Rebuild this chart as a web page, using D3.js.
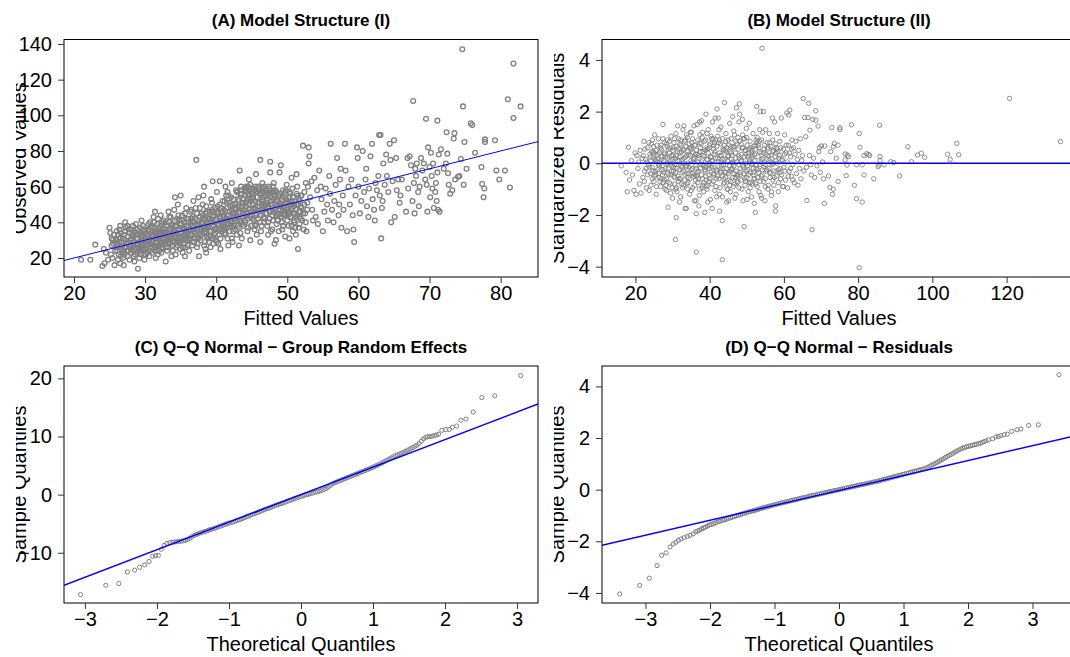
<!DOCTYPE html>
<html><head><meta charset="utf-8">
<script src="https://cdn.jsdelivr.net/npm/d3@7"></script>
<style>
html,body{margin:0;padding:0;background:#fff;}
svg{display:block;font-family:"Liberation Sans",Arial,Helvetica,sans-serif;}
</style></head><body>
<svg id="chart" width="1070" height="657"></svg>
<script>
// ---- Panel A: observed vs fitted (conditional) ----
const observedVsFitted = [
[21.0,19],[22.3,19],[23.0,27.5],[24.0,15.5],[24.2,25],[24.5,23],[24.3,17],[24.8,19],[25.0,37],[25.1,34],[25.3,31],[25.5,28],[25.2,22],[25.7,16],[25.9,26],[25.4,20],
[26.1,24],[26.3,29],[26.2,33],[26.5,17],[26.6,21],[26.8,27],[26.4,36],[26.9,31],[26.7,25],[26.0,30],[26.2,19],[26.5,38],[26.8,23],[27.0,16],[27.2,35],[27.4,28],[27.1,22],[27.6,32],[27.3,26],[27.8,19],[27.5,38],[27.7,24],[27.9,30],[27.2,40],
[28.0,27],[28.2,33],[28.4,21],[28.1,36],[28.6,25],[28.3,29],[28.8,31],[28.5,18],[28.9,23],[28.7,39],[28.2,26],[28.4,34],[29.0,28],[29.2,20],[29.5,32],[29.1,24],[29.3,37],[29.6,27],[29.8,22],[29.4,30],[29.7,35],[29.9,19],[29.0,14],[29.5,41],[29.2,26],[29.8,29],[29.6,33],[30.0,25],
[30.1,30],[30.3,23],[30.5,36],[30.2,28],[30.7,40],[30.4,32],[30.9,26],[30.6,21],[30.8,34],[31.0,29],[31.2,43],[31.4,24],[31.1,37],[31.6,31],[31.3,27],[31.8,35],[31.5,20],[31.7,39],[31.9,25],[31.0,33],[31.4,46],[31.6,28],[31.8,22],[32.0,30],[32.2,38],[32.4,26],[32.1,34],[32.6,41],[32.3,23],[32.8,31],[32.5,29],[32.7,36],[32.9,18],[32.2,44],[32.6,33],[32.0,27],
[33.0,35],[33.2,29],[33.4,40],[33.1,24],[33.6,32],[33.3,46],[33.8,27],[33.5,37],[33.7,21],[33.9,34],[33.2,31],[33.6,43],[34.0,30],[34.2,38],[34.4,26],[34.1,47],[34.6,33],[34.3,22],[34.8,41],[34.5,29],[34.7,36],[34.9,25],[34.2,54],[34.6,50],[34.0,35],[35.0,32],[35.2,44],[35.4,28],[35.1,39],[35.6,35],[35.3,23],[35.8,48],[35.5,31],[35.7,26],[35.9,42],[35.2,37],[35.6,21],[35.0,55],
[36.0,34],[36.2,30],[36.4,46],[36.1,40],[36.6,27],[36.3,36],[36.8,52],[36.5,33],[36.7,43],[36.9,29],[36.2,24],[36.6,38],[37.0,35],[37.2,75],[37.4,31],[37.1,48],[37.6,41],[37.3,26],[37.8,37],[37.5,54],[37.7,33],[37.9,45],[37.2,39],[37.6,21],[38.0,36],[38.2,42],[38.4,29],[38.1,50],[38.6,34],[38.3,60],[38.8,39],[38.5,25],[38.7,46],[38.9,31],[38.2,55],[38.6,23],
[39.0,38],[39.2,32],[39.4,47],[39.1,42],[39.6,28],[39.3,53],[39.8,36],[39.5,63],[39.7,44],[39.9,30],[39.2,26],[39.6,40],[40.0,37],[40.2,49],[40.4,33],[40.1,57],[40.6,43],[40.3,28],[40.8,39],[40.5,63],[40.7,35],[40.9,52],[40.2,46],[40.6,25],[41.0,41],[41.2,36],[41.4,55],[41.1,47],[41.6,31],[41.3,60],[41.8,39],[41.5,44],[41.7,27],[41.9,51],[41.2,34],[41.6,57],
[42.0,40],[42.2,47],[42.4,35],[42.1,54],[42.6,42],[42.3,29],[42.8,58],[42.5,38],[42.7,50],[42.9,33],[42.2,62],[42.6,45],[43.0,43],[43.2,37],[43.4,56],[43.1,49],[43.6,31],[43.3,69],[43.8,45],[43.5,60],[43.7,39],[43.9,53],[43.2,27],[43.6,48],[44.0,41],[44.2,58],[44.4,35],[44.1,51],[44.6,64],[44.3,44],[44.8,30],[44.5,56],[44.7,47],[44.9,38],[44.2,60],[44.6,53],
[45.0,44],[45.2,59],[45.4,36],[45.1,50],[45.6,67],[45.3,41],[45.8,57],[45.5,48],[45.7,33],[45.9,60],[45.2,54],[45.6,39],[46.0,46],[46.2,75],[46.4,52],[46.1,40],[46.6,59],[46.3,35],[46.8,49],[46.5,62],[46.7,43],[46.9,55],[46.2,29],[46.6,47],[47.0,51],[47.2,38],[47.4,60],[47.1,45],[47.6,68],[47.3,33],[47.8,54],[47.5,42],[47.7,58],[47.9,36],[47.2,48],[47.6,74],
[48.0,46],[48.2,55],[48.4,30],[48.1,62],[48.6,41],[48.3,50],[48.8,35],[48.5,57],[48.7,44],[48.9,68],[48.2,28],[48.6,52],[49.0,47],[49.2,40],[49.4,58],[49.1,72],[49.6,45],[49.3,36],[49.8,53],[49.5,49],[49.7,32],[49.9,61],[49.2,43],[50.0,48],[50.2,38],[50.4,56],[50.1,44],[50.6,65],[50.3,51],[50.8,35],[50.5,47],[50.7,59],[50.9,41],[50.3,31],
[51.0,50],[51.2,43],[51.4,60],[51.1,37],[51.6,53],[51.3,67],[51.8,46],[51.5,25],[51.7,39],[51.9,55],[51.2,33],[52.0,48],[52.2,83],[52.4,57],[52.1,41],[52.6,62],[52.3,36],[52.8,51],[52.5,45],[52.7,35],[52.9,60],[53.0,82],[53.1,77],[53.0,73],[53.2,54],[53.4,63],[53.6,41],[53.8,65],[53.5,47],
[54.0,43],[54.3,39],[54.5,69],[54.7,60],[54.2,58],[54.8,53],[55.0,35],[55.2,46],[55.4,59],[55.6,50],[55.9,66],[55.7,41],[56.1,84],[56.0,56],[56.3,47],[56.5,40],[56.8,61],[56.6,52],[57.0,76],[57.2,44],[57.4,64],[57.6,37],[57.3,50],[57.8,55],[57.5,70],[57.9,47],[58.2,69],[58.4,35],[58.1,84],[58.6,60],[58.8,50],[59.0,64],[59.2,44],[59.4,29],[59.3,36],[59.6,55],[59.8,82],[59.9,76],
[60.0,60],[60.2,45],[60.4,52],[60.6,80],[60.8,57],[61.0,64],[61.2,49],[61.4,43],[61.5,59],[61.1,70],[61.7,77],[61.9,84],[62.0,53],[62.2,47],[62.4,62],[62.6,58],[62.3,41],[62.8,66],[62.9,89],[63.1,89],[63.2,31],[63.0,55],[63.3,48],[63.5,73],[63.7,61],[63.4,52],[63.9,78],[64.0,66],[64.2,57],[64.4,84],[64.6,40],[64.8,63],[64.5,75],[65.0,86],[65.1,43],[65.3,76],[65.4,58],[65.6,64],[65.8,51],[65.9,55],
[66.1,64],[66.7,46],[66.9,76],[67.2,77],[67.0,59],[67.4,72],[67.6,52],[67.8,62],[67.7,108],[67.9,45],[68.0,70],[68.2,73],[68.4,57],[68.1,66],[68.6,60],[68.8,76],[68.5,49],[69.0,69],[69.2,73],[69.4,64],[69.6,61],[69.5,98],[69.8,82],[69.7,46],[70.0,71],[70.2,79],[70.1,54],[70.4,59],[70.3,66],[70.6,48],[70.8,57],[70.5,73],[70.9,62],[71.1,97],[71.0,52],[71.2,47],[71.3,78],[71.4,46],[71.1,68],[71.6,81],
[72.0,70],[72.3,73],[72.4,90.5],[72.5,78.5],[72.6,67.5],[72.7,61],[72.9,56],[73.2,58],[73.4,87],[73.5,90],[73.6,64],[74.0,65.5],[74.2,66],[74.4,75.5],[74.6,137],[74.7,105],[74.8,61],[74.9,85],[75.2,70],[75.8,95.5],[76.0,94.5],[76.4,79],[77.3,71],[77.4,61.5],[77.6,54],[77.7,59],[77.8,86.5],[77.8,85],[79.2,86],[79.4,69],[79.8,64],[80.6,69],[81.0,109],[81.3,59.5],[81.8,129],[81.8,98.5],[82.8,105],
[25.3,27],[25.6,33],[25.8,24],[26.0,35],[26.3,22],[26.4,31],[26.7,29],[26.9,20],[27.0,33],[27.1,26],[27.3,37],[27.5,21],[27.6,29],[27.8,34],[27.9,26],[28.0,23],[28.1,31],[28.3,38],[28.4,27],[28.6,22],[28.7,33],[28.9,28],[28.9,36],
[29.0,31],[29.1,25],[29.3,34],[29.4,22],[29.5,28],[29.7,38],[29.8,25],[29.9,32],[30.0,36],[30.1,22],[30.2,33],[30.4,27],[30.5,39],[30.6,30],[30.7,24],[30.8,37],[30.9,29],[31.0,23],[31.1,32],[31.2,27],[31.3,40],[31.4,35],[31.5,26],[31.6,34],[31.7,29],[31.8,42],[31.9,31],[32.0,24],[32.1,36],[32.2,29],[32.3,33],[32.4,40],[32.5,25],[32.6,37],[32.7,28],[32.8,34],[32.9,26],
[33.0,30],[33.1,38],[33.2,26],[33.3,34],[33.4,43],[33.5,28],[33.6,36],[33.7,31],[33.8,39],[33.9,24],[34.0,33],[34.1,29],[34.2,41],[34.3,35],[34.4,31],[34.5,38],[34.6,27],[34.7,44],[34.8,32],[34.9,36],[35.0,29],[35.1,34],[35.2,41],[35.3,26],[35.4,37],[35.5,33],[35.6,45],[35.7,30],[35.8,38],[35.9,34],[36.0,27],[36.1,42],[36.2,36],[36.3,31],[36.4,39],[36.5,47],[36.6,33],[36.7,29],[36.8,40],[36.9,35],
[37.0,42],[37.1,31],[37.2,36],[37.3,45],[37.4,28],[37.5,39],[37.6,34],[37.7,48],[37.8,30],[37.9,40],[38.0,33],[38.1,44],[38.2,37],[38.3,27],[38.4,41],[38.5,35],[38.6,49],[38.7,32],[38.8,43],[38.9,37],[39.0,29],[39.1,46],[39.2,40],[39.3,35],[39.4,51],[39.5,31],[39.6,43],[39.7,38],[39.8,48],[39.9,34],[40.0,42],[40.1,29],[40.2,39],[40.3,45],[40.4,36],[40.5,50],[40.6,31],[40.7,41],[40.8,46],[40.9,36],
[41.0,44],[41.1,38],[41.2,52],[41.3,33],[41.4,42],[41.5,48],[41.6,37],[41.7,55],[41.8,44],[41.9,35],[42.0,49],[42.1,41],[42.2,31],[42.3,45],[42.4,53],[42.5,39],[42.6,48],[42.7,36],[42.8,44],[42.9,57],[43.0,38],[43.1,46],[43.2,52],[43.3,41],[43.4,34],[43.5,49],[43.6,56],[43.7,43],[43.8,38],[43.9,47],[44.0,55],[44.1,40],[44.2,49],[44.3,59],[44.4,45],[44.5,37],[44.6,50],[44.7,55],[44.8,43],[44.9,52],
[45.0,56],[45.1,42],[45.2,47],[45.3,58],[45.4,52],[45.5,38],[45.6,45],[45.7,54],[45.8,49],[45.9,42],[46.0,58],[46.1,51],[46.2,44],[46.3,56],[46.4,38],[46.5,48],[46.6,54],[46.7,60],[46.8,42],[46.9,50],[47.0,45],[47.1,56],[47.2,52],[47.3,40],[47.4,49],[47.5,59],[47.6,46],[47.7,35],[47.8,50],[47.9,57],[48.0,41],[48.1,53],[48.2,48],[48.3,58],[48.4,44],[48.5,39],[48.6,49],[48.7,55],[48.8,45],[48.9,51],
[49.0,56],[49.1,43],[49.2,50],[49.3,46],[49.4,38],[49.5,54],[49.6,49],[49.7,44],[49.8,58],[49.9,47],[50.0,41],[50.1,52],[50.2,46],[50.3,57],[50.4,43],[50.5,50],[50.6,38],[50.7,48],[50.8,54],[50.9,45],[51.0,40],[51.1,52],[51.2,47],[51.3,56],[51.4,44],[51.5,50],[51.6,37],[51.7,46],[51.8,52],[51.9,42],[52.0,55],[52.2,45],[52.4,50],[52.6,40],[52.8,47],
[25.5,30],[25.9,28],[26.2,26],[26.6,34],[26.9,24],[27.2,30],[27.4,24],[27.7,36],[28.0,30],[28.3,24],[28.5,35],[28.8,27],[29.0,33],[29.3,29],[29.5,25],[29.8,36],[30.0,31],[30.2,26],[30.5,33],[30.7,28],[30.9,38],[31.1,30],[31.3,34],[31.5,29],[31.7,24],[31.9,37],[32.1,32],[32.3,28],[32.5,35],[32.7,31],[32.9,40],[33.1,34],[33.3,28],[33.5,32],[33.7,38],[33.9,30],[34.1,36],[34.3,32],[34.5,42],[34.7,30],[34.9,39],[35.1,31],[35.3,36],[35.5,40],[35.7,34],[35.9,30],[36.1,38],[36.3,33],[36.5,42],[36.7,36],[36.9,40],[37.1,34],[37.3,38],[37.5,31],[37.7,43],[37.9,36],[38.1,40],[38.3,34],[38.5,45],[38.7,38],[38.9,42],[39.1,35],[39.3,40],[39.5,46],[39.7,33],[39.9,41],[40.1,45],[40.3,38],[40.5,42],[40.7,48],[40.9,40],[41.1,43],[41.3,37],[41.5,51],[41.7,41],[41.9,46],[42.1,38],[42.3,50],[42.5,43],[42.7,47],[42.9,41],[43.1,53],[43.3,45],[43.5,40],[43.7,51],[43.9,44],[44.1,48],[44.3,52],[44.5,42],[44.7,58],[44.9,46],[45.1,53],[45.3,48],[45.5,57],[45.7,44],[45.9,51],[46.1,56],[46.3,47],[46.5,53],[46.7,40],[46.9,58],[47.1,50],[47.3,55],[47.5,46],[47.7,52],[47.9,44],[48.1,57],[48.3,47],[48.5,52],[48.7,41],[48.9,55],[49.1,49],[49.3,53],[49.5,44],[49.7,57],[49.9,51],[50.1,47],[50.3,54],[50.5,43],[50.7,52],[50.9,49],[51.1,45],[51.3,50],[51.5,55],[51.7,43],[51.9,49],
[43.5,58],[44.0,59],[44.5,60],[45.0,59],[45.5,60],[46.0,59],[46.5,57],[47.0,59],[47.5,56],[48.0,60],[43.0,57],[44.8,61]
];
const ticksAx = [20,30,40,50,60,70,80];
const ticksAy = [20,40,60,80,100,120,140];
const refLineA = [0, 1]; // intercept, slope (observed = fitted)

// ---- Panel B: standardized residuals vs fitted (marginal) ----
const residVsFitted = [
[16.2,-0.1],[17.5,-0.35],[17.8,-1.1],[18.1,0.62],[18.4,-0.65],[18.9,0.1],[19.2,-0.45],[19.6,-1.05],[19.9,0.4],[20.2,-1.2],[20.4,0.3],[20.7,-0.2],[20.9,0.05],[21.1,-0.8],[21.3,0.5],[21.5,-1.15],[21.8,0.2],[22.0,-0.55],[22.3,0.85],[22.5,-0.3],[22.8,0.15],[23.0,-0.95],[23.2,0.6],[23.5,-0.05],[23.7,-1.05],[23.9,0.35],
[24.1,-0.4],[24.3,0.75],[24.5,-0.15],[24.8,0.45],[25.0,-0.7],[25.2,1.1],[25.4,0.1],[25.6,-1.2],[25.8,0.3],[26.0,-0.25],[26.2,0.95],[26.4,-0.55],[26.6,0.05],[26.8,-0.9],[27.0,0.55],[27.2,-0.1],[27.4,1.5],[27.6,-0.35],[27.8,0.8],[28.0,-1.0],[28.2,0.25],[28.4,-0.6],[28.6,0.65],[28.8,-1.7],[29.0,0.0],[29.2,0.4],[29.4,-0.8],[29.6,1.05],[29.8,-0.3],[30.0,0.15],[24.6,0.9],[25.5,-0.45],[26.5,0.4],[27.5,-0.75],[28.5,0.0],[29.5,-1.15],[24.9,0.2],[26.9,0.7],[28.9,-0.2],[30.0,-1.35],
[30.2,0.6],[30.4,-0.5],[30.6,0.95],[30.8,-1.0],[31.0,0.3],[31.2,-0.2],[31.4,1.45],[31.6,-0.7],[31.8,0.1],[32.0,0.75],[32.2,-1.3],[32.4,0.45],[32.6,-0.35],[32.8,1.3],[33.0,-0.85],[33.2,0.2],[33.4,-1.75],[33.6,0.65],[33.8,-0.1],[34.0,1.0],[34.2,-0.55],[34.4,0.35],[34.6,-1.2],[34.8,1.2],[35.0,-0.25],[35.2,0.8],[35.4,-0.95],[35.6,0.05],[35.8,1.45],[36.0,-0.45],[30.5,-0.05],[31.5,0.55],[32.5,-0.8],[33.5,0.9],[34.5,-0.15],[35.5,0.4],[30.9,1.15],[31.9,-1.5],[32.9,0.0],[33.9,-0.4],[34.9,0.6],[35.9,-1.45],[31.1,-0.95],[33.1,1.45],[35.1,1.2],[34.1,-1.0],[32.1,0.25],[30.3,-0.3],[33.7,-1.75],[36.4,-1.95],
[36.2,0.7],[36.4,-0.2],[36.6,1.5],[36.8,-0.75],[37.0,0.3],[37.2,-1.25],[37.4,1.1],[37.6,-0.05],[37.8,1.65],[38.0,-0.6],[38.2,0.45],[38.4,-1.1],[38.6,0.85],[38.8,-0.3],[39.0,1.9],[39.2,-0.9],[39.4,0.15],[39.6,1.3],[39.8,-0.45],[40.0,0.6],[40.2,-1.4],[40.4,1.05],[40.6,-0.15],[40.8,1.6],[41.0,-0.7],[41.2,0.35],[41.4,-1.05],[41.6,0.9],[41.8,-0.25],[42.0,2.1],[36.5,-0.5],[37.5,0.6],[38.5,-0.1],[39.5,-1.5],[40.5,0.25],[41.5,1.75],[36.9,0.05],[37.9,-0.95],[38.9,0.5],[39.9,-0.2],[40.9,0.95],[41.9,-1.3],[37.1,-1.65],[38.1,1.2],[39.1,-0.65],[40.1,0.0],[41.1,0.7],[38.7,-1.9],[37.3,1.6],[40.7,-1.75],[36.3,-1.45],[39.3,-1.0],
[42.2,-0.5],[42.4,0.8],[42.6,-1.2],[42.8,0.3],[43.0,1.4],[43.2,-0.1],[43.4,-2.22],[43.6,0.55],[43.8,-0.8],[44.0,2.35],[44.2,-0.35],[44.4,1.15],[44.6,-1.5],[44.8,0.1],[45.0,0.9],[45.2,-0.65],[45.4,1.55],[45.6,-1.1],[45.8,0.4],[46.0,-0.2],[46.2,1.8],[46.4,-0.9],[46.6,0.65],[46.8,-1.35],[47.0,0.2],[47.2,2.15],[47.4,-0.45],[47.6,1.0],[47.8,-0.05],[48.0,2.3],[42.5,1.3],[43.5,-1.3],[44.5,0.45],[45.5,-0.3],[46.5,1.25],[47.5,-0.75],[42.9,-0.3],[43.9,0.7],[44.9,-1.0],[45.9,0.15],[46.9,-0.55],[47.9,1.6],[42.3,1.75],[44.3,-0.55],[45.1,-1.45],[46.1,0.0],[47.1,-1.2],[43.1,0.05],[48.1,1.9],[42.7,-1.85],
[48.3,-0.35],[48.5,0.75],[48.7,-1.0],[48.9,1.1],[49.1,-0.15],[49.3,-2.45],[49.5,0.5],[49.7,-0.7],[49.9,1.35],[50.1,-1.4],[50.3,0.25],[50.5,-0.45],[50.7,1.55],[50.9,-0.95],[51.1,0.6],[51.3,-1.3],[51.5,0.0],[51.7,1.15],[51.9,-0.6],[52.1,0.35],[52.3,-1.9],[52.5,0.9],[52.7,2.2],[52.9,-0.25],[53.1,0.7],[53.3,-1.1],[53.5,1.3],[53.7,2.0],[53.9,-0.5],[54.1,0.15],[48.4,0.1],[49.4,0.95],[50.4,-1.1],[51.4,0.4],[52.4,-0.8],[53.4,0.45],[48.8,1.7],[49.8,-0.3],[50.8,0.05],[51.8,-0.2],[52.8,1.0],[53.8,-1.25],[50.0,1.0],[52.0,-1.55],[54.0,-1.35],[49.0,-1.45],
[54.3,1.2],[54.5,-0.7],[54.7,0.55],[54.9,-1.45],[55.1,1.3],[55.3,-0.3],[55.5,0.8],[55.7,-1.0],[55.9,0.3],[56.1,1.15],[56.3,-0.55],[56.5,0.65],[56.7,-1.1],[56.9,1.75],[57.1,0.0],[57.3,-0.85],[57.5,1.6],[57.7,-1.85],[57.9,0.4],[58.1,-0.3],[58.3,1.15],[58.5,-1.1],[58.7,0.2],[58.9,0.85],[59.1,-0.6],[59.3,1.75],[59.5,0.1],[59.7,-0.9],[59.9,0.55],[60.0,-0.15],[55.0,-0.05],[56.0,-0.2],[57.0,0.9],[58.0,0.6],[59.0,-0.35],[57.8,-1.65],[56.6,-1.25],[54.5,2.0],
[60.2,1.1],[60.4,-0.65],[60.6,0.4],[60.8,1.95],[61.0,-0.95],[61.2,0.7],[61.4,-0.3],[61.6,2.06],[61.3,1.87],[61.8,0.25],[62.0,-0.5],[62.2,0.9],[62.4,-0.05],[62.6,0.6],[62.8,-0.75],[63.0,0.35],[63.2,0.85],[63.4,-0.4],[63.6,0.15],[63.8,-0.85],[64.0,0.5],[64.2,-0.2],[64.4,0.95],[64.6,-0.6],[64.8,0.1],[65.0,0.3],[65.2,2.5],[65.4,-0.3],[65.6,1.77],[65.9,1.03],[66.1,-0.15],[66.2,-1.44],[66.5,1.77],[66.7,2.32],[66.9,0.3],[67.0,1.28],[67.2,-0.05],[67.4,-0.45],[67.6,-2.57],[67.8,1.7],[68.0,0.2],[68.3,-0.55],[68.6,1.67],[68.6,2.03],[68.9,-0.1],[69.2,1.44],[69.4,0.45],[69.6,0.6],[69.8,-0.35],[70.1,0.67],
[70.4,0.05],[70.7,-0.6],[71.0,0.67],[70.9,-1.55],[72.0,-0.49],[72.4,-0.93],[72.6,0.45],[72.9,1.38],[73.1,-1.2],[73.3,-1.0],[73.3,0.64],[73.6,0.77],[74.1,0.2],[74.6,0.7],[74.6,-0.7],[75.1,1.38],[75.1,1.3],[76.5,0.36],[76.5,0.13],[76.8,-0.48],[77.0,-0.07],[77.1,0.32],[77.4,0.26],[78.2,1.49],[79.0,-0.85],[79.6,-1.37],[79.6,-0.06],[80.3,1.15],[80.3,-4.04],[80.5,0.62],[81.1,-1.5],[81.1,-0.06],[81.6,0.3],[81.6,-0.45],[82.3,0.37],[82.8,0.34],[83.1,0.3],[84.2,-0.6],[85.4,-0.13],[85.6,-0.07],[85.8,1.47],[85.9,0.26],[85.9,0.1],[87.0,-0.06],[88.8,0.06],[89.6,0.03],[91.2,-0.49],[93.4,0.64],[94.4,0.06],[96.0,0.32],[97.0,0.39],[97.9,0.23],[104.1,0.35],[104.8,0.15],[106.6,0.77],[107.1,0.33],[120.8,2.51],[134.5,0.84],
[54.1,4.45],[43.4,-3.73],[36.4,-3.44],[30.8,-2.95],[31.0,-2.10],
[22.1,0.3],[22.4,-0.7],[22.6,0.55],[22.9,-0.2],[23.1,0.05],[23.3,-0.45],[23.6,0.8],[23.8,-0.15],[24.0,0.25],[24.2,-0.85],[24.4,0.45],[24.7,-0.3],[24.9,0.65],[25.1,-0.5],[25.3,0.15],[25.5,0.5],[25.7,-0.9],[25.9,0.05],[26.1,0.35],[26.3,-0.4],[26.5,-0.1],[26.7,0.6],[26.9,-0.6],
[27.1,0.25],[27.3,-0.45],[27.4,0.95],[27.6,0.1],[27.8,-0.65],[27.9,0.4],[28.1,-0.2],[28.3,0.75],[28.4,-1.05],[28.6,0.2],[28.7,-0.4],[28.9,0.55],[29.1,-0.75],[29.2,0.85],[29.4,0.1],[29.6,-0.45],[29.7,0.3],[29.9,-0.95],[30.1,0.5],[30.2,-0.15],[30.4,0.8],[30.6,-0.55],[30.7,0.2],[30.9,-0.35],[31.0,0.65],[31.2,-1.1],[31.3,0.1],[31.5,-0.5],[31.6,0.95],[31.8,-0.25],
[32.0,0.4],[32.1,-0.6],[32.3,0.7],[32.4,-0.1],[32.6,0.15],[32.7,-0.95],[32.9,0.55],[33.0,-0.3],[33.2,0.85],[33.3,-0.65],[33.5,0.25],[33.6,-0.15],[33.8,1.1],[33.9,-0.8],[34.1,0.45],[34.2,0.0],[34.4,-0.4],[34.5,0.75],[34.7,-0.6],[34.8,0.3],[35.0,-1.05],[35.1,0.55],[35.3,-0.2],[35.4,0.95],[35.6,-0.5],[35.7,0.15],[35.9,0.7],[36.0,-0.85],[36.2,0.35],[36.3,-0.1],
[36.5,0.5],[36.6,-0.35],[36.8,0.9],[36.9,-0.6],[37.1,0.2],[37.2,-1.0],[37.4,0.45],[37.5,-0.2],[37.7,0.75],[37.8,-0.45],[38.0,1.0],[38.1,-0.05],[38.3,0.3],[38.4,-0.75],[38.6,0.55],[38.7,-0.25],[38.9,0.9],[39.0,-0.5],[39.2,0.15],[39.3,1.15],[39.5,-0.85],[39.6,0.4],[39.8,-0.1],[39.9,0.7],[40.1,-0.6],[40.2,0.25],[40.4,-0.35],[40.5,0.95],[40.7,-0.8],[40.8,0.1],
[41.0,0.55],[41.1,-0.45],[41.3,0.8],[41.4,-0.15],[41.6,0.2],[41.7,-0.9],[41.9,0.65],[42.0,-0.3],[42.2,1.05],[42.3,0.05],[42.5,-0.6],[42.6,0.4],[42.8,-0.95],[42.9,0.75],[43.1,-0.2],[43.2,0.3],[43.4,-0.5],[43.5,0.95],[43.7,-0.05],[43.8,0.5],[44.0,-0.75],[44.1,0.15],[44.3,0.85],[44.4,-0.35],[44.6,0.6],[44.7,-1.0],[44.9,0.25],[45.0,-0.4],[45.2,0.7],[45.3,-0.1],
[45.5,0.45],[45.6,-0.7],[45.8,0.95],[45.9,-0.25],[46.1,0.3],[46.2,-0.55],[46.4,0.6],[46.5,-0.1],[46.7,1.1],[46.8,-0.8],[47.0,0.4],[47.1,-0.3],[47.3,0.75],[47.4,0.05],[47.6,-0.5],[47.7,0.55],[47.9,-0.95],[48.0,0.2],[48.2,0.85],[48.3,-0.2],[48.5,0.35],[48.6,-0.65],[48.8,0.6],[48.9,-0.1],[49.1,0.95],[49.2,-0.4],[49.4,0.25],[49.5,-0.85],[49.7,0.5],[49.8,0.0],
[50.0,-0.55],[50.1,0.7],[50.3,-0.25],[50.4,0.4],[50.6,-0.75],[50.7,0.15],[50.9,0.85],[51.0,-0.35],[51.2,0.5],[51.3,-0.05],[51.5,-0.8],[51.6,0.3],[51.8,0.65],[51.9,-0.45],[52.1,0.1],[52.2,-0.6],[52.4,0.55],[52.5,-0.2],[52.7,0.8],[52.8,-0.9],[53.0,0.25],[53.2,-0.35],[53.3,0.6],[53.5,-0.05],[53.6,-0.7],[53.8,0.4],[54.0,0.9],[54.2,-0.45],[54.4,0.2],[54.6,-0.15],
[54.8,0.7],[55.0,-0.6],[55.2,0.35],[55.4,-0.25],[55.6,0.55],[55.8,-0.85],[56.0,0.1],[56.2,0.8],[56.4,-0.4],[56.6,0.3],[56.8,-0.05],[57.0,-0.65],[57.2,0.5],[57.4,-0.3],[57.6,0.25],[57.8,0.75],[58.0,-0.5],[58.2,0.0],[58.4,0.45],[58.6,-0.75],[58.8,0.3],[59.0,-0.2],[59.2,0.6],[59.4,-0.45],[59.6,0.15],[59.8,-0.9],[60.1,0.35],[60.3,-0.3],[60.6,0.7],[60.9,0.05],[61.2,-0.5],[61.5,0.4],[61.8,-0.2],[62.1,0.55],[62.4,-0.65],
[24.2,0.1],[24.6,-0.6],[25.0,0.4],[25.4,-0.3],[25.8,0.7],[26.2,-0.05],[26.6,-0.7],[27.0,0.15],[27.4,-0.25],[27.8,0.35],[28.2,-0.85],[28.6,0.9],[29.0,-0.45],[29.4,0.6],[29.8,-0.1],[30.2,0.3],[30.6,-0.8],[31.0,-0.05],[31.4,0.45],[31.8,-0.6],[32.2,0.9],[32.6,-0.15],[33.0,0.5],[33.4,-0.45],[33.8,0.3],[34.2,-0.75],[34.6,0.6],[35.0,0.1],[35.4,-0.4],[35.8,0.2],[36.2,-0.65],[36.6,0.35],[37.0,-0.3],[37.4,0.8],[37.8,0.05],[38.2,-0.85],[38.6,0.25],[39.0,-0.15],[39.4,0.55],[39.8,-0.7],[40.2,0.75],[40.6,0.1],[41.0,-0.4],[41.4,0.45],[41.8,-0.6],[42.2,0.2],[42.6,0.9],[43.0,-0.35],[43.4,0.15],[43.8,-0.6],[44.2,0.5],[44.6,-0.2],[45.0,0.3],[45.4,-0.85],[45.8,0.65],[46.2,0.05],[46.6,-0.4],[47.0,0.85],[47.4,-0.7],[47.8,0.3],[48.2,-0.45],[48.6,0.1],[49.0,0.6],[49.4,-0.6],[49.8,0.35],[50.2,-0.1],[50.6,0.55],[51.0,-0.75],[51.4,0.2],[51.8,-0.35],[52.2,0.7],[52.6,-0.05],[53.0,-0.55],[53.4,0.85],[53.8,0.05],[54.2,-0.25],[54.6,0.4],[55.0,-0.9],[55.4,0.15],[55.8,0.6],[56.2,-0.35],[56.6,0.05],[57.0,0.45],[57.4,-0.55],[57.8,0.1],[58.2,0.55],[58.6,-0.25]
];
const ticksBx = [20,40,60,80,100,120];
const ticksBy = [-4,-2,0,2,4];
const refLineB = [0, 0];

// ---- Panel C: normal Q-Q of group random effects [theoretical, sample] ----
const qqGroupEffects = [
[-3.06,-17.2],[-2.71,-15.6],[-2.53,-15.3],[-2.41,-13.3],[-2.31,-13.0],[-2.24,-12.5],[-2.17,-12.1],[-2.11,-11.5],[-2.06,-10.6],[-2.02,-10.5],[-1.98,-10.45],[-1.94,-9.4],[-1.90,-8.73],[-1.86,-8.4],[-1.82,-8.26],
[-1.78,-8.2],[-1.75,-8.15],[-1.72,-8.1],[-1.69,-8.05],[-1.66,-8.0],[-1.63,-7.95],[-1.60,-7.85],[-1.57,-7.7],[-1.54,-7.5],[-1.51,-7.2],[-1.48,-7.0],[-1.45,-6.85],[-1.42,-6.7],[-1.39,-6.55],[-1.36,-6.45],[-1.33,-6.35],[-1.30,-6.2],[-1.27,-6.05],[-1.24,-5.95],[-1.21,-5.85],[-1.18,-5.7],[-1.15,-5.55],[-1.12,-5.45],[-1.09,-5.3],[-1.06,-5.15],[-1.03,-5.0],[-1.00,-4.9],[-0.97,-4.8],[-0.94,-4.7],[-0.91,-4.55],[-0.88,-4.4],[-0.85,-4.3],[-0.82,-4.15],[-0.79,-4.0],[-0.76,-3.85],[-0.73,-3.7],[-0.70,-3.55],[-0.67,-3.4],[-0.64,-3.25],[-0.61,-3.1],[-0.58,-2.95],[-0.55,-2.8],[-0.52,-2.65],[-0.49,-2.5],[-0.46,-2.4],[-0.43,-2.25],[-0.40,-2.1],[-0.37,-1.95],[-0.34,-1.8],[-0.31,-1.7],[-0.28,-1.55],[-0.25,-1.45],[-0.22,-1.3],[-0.19,-1.15],[-0.16,-1.0],[-0.13,-0.9],[-0.10,-0.75],[-0.07,-0.6],[-0.04,-0.5],[-0.01,-0.35],[0.02,-0.25],[0.05,-0.1],[0.08,0.0],[0.11,0.1],[0.14,0.2],[0.17,0.3],[0.20,0.4],[0.23,0.5],[0.26,0.6],[0.29,0.75],[0.32,0.9],[0.35,1.05],[0.38,1.3],[0.41,1.6],[0.44,1.85],[0.47,2.05],[0.50,2.2],[0.53,2.35],[0.56,2.5],[0.59,2.65],[0.62,2.8],[0.65,2.95],[0.68,3.1],[0.71,3.25],[0.74,3.4],[0.77,3.55],[0.80,3.7],[0.83,3.85],[0.86,4.0],[0.89,4.15],[0.92,4.3],[0.95,4.45],[0.98,4.6],[1.01,4.8],[1.04,4.95],[1.07,5.1],[1.10,5.3],[1.13,5.5],[1.16,5.7],[1.19,5.9],[1.22,6.1],[1.25,6.3],[1.28,6.5],[1.31,6.7],[1.34,6.85],[1.37,7.0],[1.40,7.15],[1.43,7.3],[1.46,7.5],[1.49,7.7],[1.52,7.9],[1.55,8.1],[1.58,8.3],[1.61,8.5],[1.64,8.8],[1.67,9.2],[1.70,9.6],[1.73,9.85],[1.76,9.95],[1.79,10.0],[1.82,10.05],[1.85,10.15],[1.88,10.25],[1.91,10.4],
[1.955,11.07],[2.01,11.2],[2.06,11.2],[2.10,11.6],[2.16,11.8],[2.22,12.8],[2.29,13.0],[2.39,14.2],[2.51,16.7],[2.69,17.0],[3.05,20.5]
];
const ticksCx = [-3,-2,-1,0,1,2,3];
const ticksCy = [-10,0,10,20];
const refLineC = [0, 4.74];

// ---- Panel D: normal Q-Q of residuals [theoretical, sample] ----
const qqResiduals = [
[-3.40,-4.04],[-3.09,-3.71],[-2.94,-3.43],[-2.82,-2.94],[-2.75,-2.54],[-2.68,-2.45],[-2.62,-2.22],[-2.57,-2.10],[-2.53,-2.04],[-2.49,-1.96],[-2.45,-1.91],[-2.40,-1.86],[-2.35,-1.81],[-2.31,-1.77],[-2.26,-1.71],
[-2.22,-1.63],[-2.19,-1.60],[-2.16,-1.57],[-2.13,-1.52],[-2.10,-1.48],[-2.07,-1.45],[-2.04,-1.41],[-2.01,-1.37],[-1.98,-1.35],[-1.95,-1.32],[-1.92,-1.29],[-1.89,-1.26],[-1.86,-1.23],[-1.83,-1.21],[-1.80,-1.18],[-1.77,-1.16],[-1.74,-1.14],[-1.71,-1.11],[-1.68,-1.09],[-1.65,-1.06],[-1.62,-1.04],[-1.59,-1.01],[-1.56,-0.99],[-1.53,-0.96],[-1.50,-0.94],[-1.47,-0.92],[-1.44,-0.89],[-1.41,-0.87],[-1.38,-0.85],[-1.35,-0.83],[-1.32,-0.81],[-1.29,-0.79],[-1.26,-0.77],[-1.23,-0.74],[-1.20,-0.72],[-1.17,-0.70],[-1.14,-0.68],[-1.11,-0.66],[-1.08,-0.64],[-1.05,-0.62],[-1.02,-0.60],[-0.99,-0.58],[-0.96,-0.56],[-0.93,-0.54],[-0.90,-0.52],[-0.87,-0.50],[-0.84,-0.49],[-0.81,-0.47],[-0.78,-0.45],[-0.75,-0.43],[-0.72,-0.41],[-0.69,-0.40],[-0.66,-0.38],[-0.63,-0.36],[-0.60,-0.34],[-0.57,-0.32],[-0.54,-0.31],[-0.51,-0.29],[-0.48,-0.27],[-0.45,-0.25],[-0.42,-0.23],[-0.39,-0.22],[-0.36,-0.20],[-0.33,-0.18],[-0.30,-0.17],[-0.27,-0.15],[-0.24,-0.13],[-0.21,-0.12],[-0.18,-0.10],[-0.15,-0.08],[-0.12,-0.07],[-0.09,-0.05],[-0.06,-0.03],[-0.03,-0.02],[0.00,0.00],[0.03,0.02],[0.06,0.03],[0.09,0.05],[0.12,0.07],[0.15,0.08],[0.18,0.10],[0.21,0.12],[0.24,0.13],[0.27,0.15],[0.30,0.17],[0.33,0.18],[0.36,0.20],[0.39,0.21],[0.42,0.23],[0.45,0.25],[0.48,0.26],[0.51,0.28],[0.54,0.30],[0.57,0.31],[0.60,0.33],[0.63,0.35],[0.66,0.37],[0.69,0.39],[0.72,0.41],[0.75,0.43],[0.78,0.45],[0.81,0.47],[0.84,0.49],[0.87,0.51],[0.90,0.53],[0.93,0.55],[0.96,0.57],[0.99,0.59],[1.02,0.61],[1.05,0.63],[1.08,0.65],[1.11,0.67],[1.14,0.69],[1.17,0.71],[1.20,0.73],[1.23,0.75],[1.26,0.77],[1.29,0.79],[1.32,0.81],[1.35,0.84],[1.38,0.87],[1.41,0.91],[1.44,0.95],[1.47,0.99],[1.50,1.03],[1.53,1.07],[1.56,1.11],[1.59,1.16],[1.62,1.20],[1.65,1.25],[1.68,1.29],[1.71,1.33],[1.74,1.37],[1.77,1.41],[1.80,1.46],[1.83,1.50],[1.86,1.54],[1.89,1.58],[1.92,1.61],[1.95,1.64],[1.98,1.66],[2.01,1.68],[2.04,1.70],[2.07,1.72],[2.10,1.74],[2.13,1.76],[2.16,1.78],[2.19,1.80],[2.22,1.83],[2.25,1.86],[2.28,1.89],
[2.32,1.93],[2.38,1.97],[2.43,2.04],[2.47,2.06],[2.51,2.09],[2.56,2.13],[2.61,2.15],[2.68,2.26],[2.76,2.32],[2.82,2.35],[2.94,2.49],[3.09,2.51],[3.41,4.45]
];
const ticksDx = [-3,-2,-1,0,1,2,3];
const ticksDy = [-4,-2,0,2,4];
const refLineD = [-0.03, 0.578];

// ---- layout and drawing ----
const panels = [
  {id:"A", title:"(A) Model Structure (I)", xLabel:"Fitted Values", yLabel:"Observed Values",
   data:observedVsFitted, xt:ticksAx, yt:ticksAy, ref:refLineA,
   box:{l:64, r:538, t:39.5, b:277}, xd:[18.6,85.25], yd:[9.35,142.5], rad:2.4, sw:1.3, lw:1},
  {id:"B", title:"(B) Model Structure (II)", xLabel:"Fitted Values", yLabel:"Standardized Residuals",
   data:residVsFitted, xt:ticksBx, yt:ticksBy, ref:refLineB,
   box:{l:602, r:1076, t:39.5, b:277}, xd:[11.0,138.7], yd:[-4.40,4.79], rad:2.2, sw:0.9, lw:1.5},
  {id:"C", title:"(C) Q\u2212Q Normal \u2212 Group Random Effects", xLabel:"Theoretical Quantiles", yLabel:"Sample Quantiles",
   data:qqGroupEffects, xt:ticksCx, yt:ticksCy, ref:refLineC,
   box:{l:64, r:538, t:366, b:603}, xd:[-3.29,3.29], yd:[-18.65,22.13], rad:2.1, sw:1.0, lw:1.5},
  {id:"D", title:"(D) Q\u2212Q Normal \u2212 Residuals", xLabel:"Theoretical Quantiles", yLabel:"Sample Quantiles",
   data:qqResiduals, xt:ticksDx, yt:ticksDy, ref:refLineD,
   box:{l:602, r:1076, t:366, b:603}, xd:[-3.674,3.674], yd:[-4.39,4.79], rad:2.1, sw:1.0, lw:1.5}
];

const svg = d3.select("#chart");
const defs = svg.append("defs");
const fmt = d3.format("d");

panels.forEach(p => {
  const b = p.box;
  const x = d3.scaleLinear().domain(p.xd).range([b.l, b.r]);
  const y = d3.scaleLinear().domain(p.yd).range([b.b, b.t]);
  const g = svg.append("g").attr("class", "panel-" + p.id);

  defs.append("clipPath").attr("id", "plot-" + p.id)
    .append("rect").attr("x", b.l).attr("y", b.t).attr("width", b.r - b.l).attr("height", b.b - b.t);
  defs.append("clipPath").attr("id", "ylab-" + p.id)
    .append("rect").attr("x", b.l - 48).attr("y", 0).attr("width", 600).attr("height", 657);

  // points
  g.append("g").attr("clip-path", `url(#plot-${p.id})`)
    .selectAll("circle").data(p.data).join("circle")
    .attr("cx", d => x(d[0])).attr("cy", d => y(d[1])).attr("r", p.rad)
    .attr("fill", "none").attr("stroke", "#808080").attr("stroke-width", p.sw);

  // reference line
  const [a, s] = p.ref;
  g.append("line").attr("clip-path", `url(#plot-${p.id})`)
    .attr("x1", x(p.xd[0])).attr("y1", y(a + s * p.xd[0]))
    .attr("x2", x(p.xd[1])).attr("y2", y(a + s * p.xd[1]))
    .attr("stroke", "#0000ff").attr("stroke-width", p.lw);

  // frame
  g.append("rect").attr("x", b.l).attr("y", b.t).attr("width", b.r - b.l).attr("height", b.b - b.t)
    .attr("fill", "none").attr("stroke", "#000").attr("stroke-width", 1);

  // axes
  const xa = g.append("g").attr("transform", `translate(0,${b.b})`)
    .call(d3.axisBottom(x).tickValues(p.xt).tickFormat(fmt).tickSize(6).tickSizeOuter(0).tickPadding(3));
  const ya = g.append("g").attr("transform", `translate(${b.l},0)`)
    .call(d3.axisLeft(y).tickValues(p.yt).tickFormat(fmt).tickSize(6).tickSizeOuter(0).tickPadding(6));
  [xa, ya].forEach(ax => {
    ax.select(".domain").remove();
    ax.selectAll("text").attr("font-size", 20).attr("font-family", "Liberation Sans, Arial, sans-serif").attr("fill", "#000");
    ax.selectAll("line").attr("stroke", "#333");
  });

  // titles and labels
  const cx = (b.l + b.r) / 2, cy = (b.t + b.b) / 2;
  g.append("text").attr("x", cx).attr("y", b.t - 13.5).attr("text-anchor", "middle")
    .attr("font-size", 17).attr("font-weight", "bold").text(p.title);
  g.append("text").attr("x", cx).attr("y", b.b + 48).attr("text-anchor", "middle")
    .attr("font-size", 20).text(p.xLabel);
  g.append("g").attr("clip-path", `url(#ylab-${p.id})`)
    .append("text").attr("transform", `translate(${b.l - 38},${cy}) rotate(-90)`)
    .attr("text-anchor", "middle").attr("font-size", 20).text(p.yLabel);
});
</script>
</body></html>
